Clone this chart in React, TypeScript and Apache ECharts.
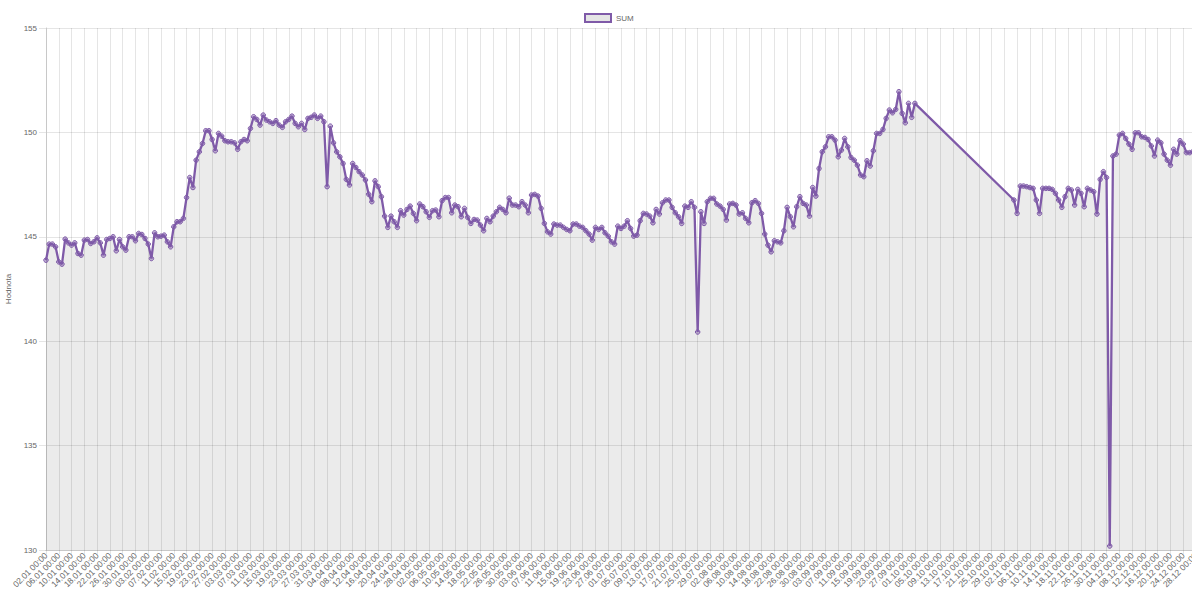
import React, { useEffect, useRef } from "react";
import * as echarts from "echarts";

// Daily categories from 02.01 to 28.12 (non-leap year), labelled "DD.MM 00:00"
const dayLabels: string[] = [];
for (let i = 0; i < 361; i++) {
  const d = new Date(Date.UTC(2023, 0, 2 + i));
  const dd = String(d.getUTCDate()).padStart(2, "0");
  const mm = String(d.getUTCMonth() + 1).padStart(2, "0");
  dayLabels.push(`${dd}.${mm} 00:00`);
}

// 02.01 – 16.03
const winterValues = [
  143.88, 144.65, 144.65, 144.52, 143.8, 143.69, 144.89, 144.71, 144.6, 144.71,
  144.2, 144.12, 144.84, 144.87, 144.68, 144.76, 144.95, 144.71, 144.12, 144.87,
  144.92, 145.0, 144.33, 144.87, 144.52, 144.36, 145.0, 145.0, 144.81, 145.16,
  145.11, 144.92, 144.65, 143.96, 145.19, 145.0, 145.03, 145.08, 144.76, 144.52,
  145.48, 145.72, 145.72, 145.88, 146.88, 147.84, 147.36, 148.67, 149.07, 149.47,
  150.08, 150.08, 149.66, 149.12, 149.95, 149.82, 149.6, 149.55, 149.55, 149.5,
  149.19, 149.55, 149.66, 149.6, 150.19, 150.75, 150.62, 150.35, 150.83, 150.59,
  150.51, 150.43, 150.56, 150.35,
];

// 17.03 – 26.05
const springValues = [
  150.24, 150.51, 150.62, 150.78, 150.43, 150.27, 150.43, 150.14, 150.67, 150.72,
  150.83, 150.67, 150.78, 150.51, 147.4, 150.3, 149.5, 149.07, 148.83, 148.51,
  147.75, 147.48, 148.51, 148.32, 148.12, 147.96, 147.72, 147.04, 146.68, 147.68,
  147.4, 146.92, 145.99, 145.45, 145.99, 145.72, 145.45, 146.25, 146.04, 146.31,
  146.47, 146.12, 145.77, 146.57, 146.44, 146.2, 145.93, 146.25, 146.28, 145.96,
  146.73, 146.88, 146.88, 146.15, 146.52, 146.44, 145.96, 146.36, 145.93, 145.64,
  145.83, 145.8, 145.56, 145.29, 145.88, 145.72, 145.99, 146.2, 146.41, 146.31,
  146.15,
];

// 27.05 – 09.08
const summerValues = [
  146.85, 146.52, 146.52, 146.44, 146.68, 146.52, 146.15, 147.0, 147.03, 146.95,
  146.36, 145.64, 145.24, 145.13, 145.61, 145.56, 145.56, 145.45, 145.35, 145.29,
  145.61, 145.61, 145.51, 145.45, 145.29, 145.13, 144.84, 145.45, 145.35, 145.45,
  145.19, 145.03, 144.76, 144.65, 145.51, 145.4, 145.51, 145.77, 145.4, 145.03,
  145.08, 145.77, 146.12, 146.09, 145.99, 145.67, 146.31, 146.09, 146.63, 146.76,
  146.76, 146.41, 146.15, 145.96, 145.64, 146.47, 146.41, 146.68, 146.41, 140.44,
  146.2, 145.64, 146.68, 146.84, 146.84, 146.57, 146.47, 146.31, 145.8, 146.57,
  146.6, 146.52, 146.09, 146.15, 145.88,
];

// 10.08 – 01.10
const autumnValues = [
  145.67, 146.63, 146.73, 146.6, 146.12, 145.13, 144.6, 144.28, 144.81, 144.76,
  144.71, 145.29, 146.41, 145.96, 145.48, 146.44, 146.92, 146.6, 146.52, 145.99,
  147.36, 146.95, 148.27, 149.07, 149.31, 149.79, 149.79, 149.63, 148.83, 149.15,
  149.71, 149.31, 148.8, 148.67, 148.43, 147.96, 147.88, 148.64, 148.39, 149.12,
  149.95, 149.95, 150.14, 150.67, 151.07, 150.94, 151.1, 151.95, 150.91, 150.46,
  151.39, 150.72, 151.39,
];

// 02.10 – 31.10: no measurements
const missingValues = [
  null, null, null, null, null, null, null, null, null, null,
  null, null, null, null, null, null, null, null, null, null,
  null, null, null, null, null, null, null, null, null, null,
];

// 01.11 – 28.12
const winterEndValues = [
  146.76, 146.12, 147.43, 147.43, 147.4, 147.36, 147.32, 146.76, 146.12, 147.32,
  147.32, 147.32, 147.27, 147.08, 146.76, 146.41, 146.92, 147.32, 147.24, 146.52,
  147.27, 147.08, 146.44, 147.32, 147.24, 147.16, 146.09, 147.75, 148.12, 147.84,
  130.19, 148.87, 148.96, 149.87, 149.95, 149.71, 149.44, 149.19, 149.98, 149.98,
  149.79, 149.76, 149.66, 149.35, 148.87, 149.63, 149.5, 148.96, 148.67, 148.43,
  149.19, 148.96, 149.6, 149.44, 149.03, 149.03, 149.07, 149.19,
];

const sumValues = [
  ...winterValues,
  ...springValues,
  ...summerValues,
  ...autumnValues,
  ...missingValues,
  ...winterEndValues,
];

const yMin = 130;
const yMax = 155;
const yStep = 5;

const LINE = "#7f5aa8";
const GRID = "rgba(0,0,0,0.1)";
const TEXT = "#666";
const FONT = "'Liberation Sans', Arial, Helvetica, sans-serif";

export default function App() {
  const ref = useRef<HTMLDivElement>(null);

  useEffect(() => {
    if (!ref.current) return;
    const chart = echarts.init(ref.current, null, { renderer: "svg" });
    chart.setOption({
      animation: false,
      backgroundColor: "#ffffff",
      textStyle: { fontFamily: FONT },
      legend: {
        data: ["SUM"],
        left: 579,
        top: 8,
        icon: "rect",
        itemWidth: 26,
        itemHeight: 8,
        itemGap: 5,
        textStyle: { fontSize: 8, color: TEXT, fontFamily: FONT },
        itemStyle: {
          color: "rgba(0,0,0,0.1)",
          borderColor: LINE,
          borderWidth: 2,
        },
      },
      grid: {
        left: 46,
        right: -4,
        top: 28,
        bottom: 42,
        containLabel: false,
        outerBoundsMode: "none",
      },
      xAxis: {
        type: "category",
        data: dayLabels,
        boundaryGap: false,
        axisLine: { show: true, lineStyle: { color: "#c8c8c8", width: 1 } },
        axisTick: {
          show: true,
          interval: 3,
          length: 4,
          lineStyle: { color: GRID },
        },
        axisLabel: {
          interval: 3,
          rotate: 45,
          fontSize: 8.5,
          color: TEXT,
          margin: 4,
          fontFamily: FONT,
        },
        splitLine: {
          show: true,
          interval: 3,
          lineStyle: { color: GRID, width: 1 },
        },
      },
      yAxis: {
        type: "value",
        min: yMin,
        max: yMax,
        interval: yStep,
        name: "Hodnota",
        nameLocation: "middle",
        nameRotate: 90,
        nameGap: 21,
        nameTextStyle: { fontSize: 8, color: TEXT, fontFamily: FONT },
        axisLine: { show: true, lineStyle: { color: "#c8c8c8", width: 1 } },
        axisTick: { show: true, length: 7, lineStyle: { color: GRID } },
        axisLabel: { fontSize: 8, color: TEXT, margin: 9, fontFamily: FONT },
        splitLine: { show: true, lineStyle: { color: GRID, width: 1 } },
      },
      series: [
        {
          type: "line",
          name: "SUM",
          data: sumValues,
          connectNulls: true,
          symbol: "circle",
          symbolSize: 4.5,
          showSymbol: true,
          showAllSymbol: true,
          lineStyle: { color: LINE, width: 2.3 },
          itemStyle: {
            color: "rgba(127,90,168,0.45)",
            borderColor: LINE,
            borderWidth: 1,
          },
          areaStyle: { color: "rgba(0,0,0,0.11)", origin: "start" },
          emphasis: { disabled: true },
        },
      ],
    });
    return () => chart.dispose();
  }, []);

  return (
    <div
      ref={ref}
      style={{ position: "absolute", left: 0, top: 0, width: 1192, height: 592 }}
    />
  );
}
